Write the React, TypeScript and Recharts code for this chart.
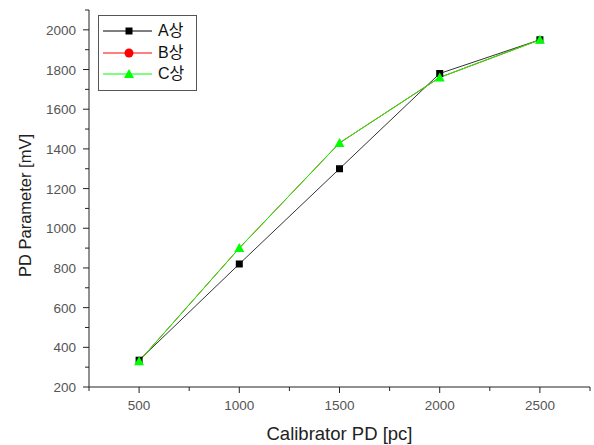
import React from "react";
import { LineChart, Line, XAxis, YAxis } from "recharts";

const categories = [500, 1000, 1500, 2000, 2500];
const seriesA = [335, 820, 1300, 1780, 1950];
const seriesB = [330, 900, 1430, 1760, 1950];
const seriesC = [330, 900, 1430, 1760, 1950];
const xTicks = [250, 500, 750, 1000, 1250, 1500, 1750, 2000, 2250, 2500, 2750];
const xLabels = [500, 1000, 1500, 2000, 2500];
const yTicks = [200, 300, 400, 500, 600, 700, 800, 900, 1000, 1100, 1200, 1300, 1400, 1500, 1600, 1700, 1800, 1900, 2000, 2100];
const yLabels = [200, 400, 600, 800, 1000, 1200, 1400, 1600, 1800, 2000];
const xTitle = "Calibrator PD [pc]";
const yTitle = "PD Parameter [mV]";

const data = categories.map((x, i) => ({ x, a: seriesA[i], b: seriesB[i], c: seriesC[i] }));

const FONT = "Arial, 'Liberation Sans', 'Noto Sans CJK KR', sans-serif";

const XTick = (props: any) => {
  const { x, y, payload } = props;
  const major = xLabels.includes(payload.value);
  return (
    <g>
      <line x1={x} y1={y} x2={x} y2={y + (major ? 6 : 4)} stroke="#222" strokeWidth={1} />
      {major && (
        <text x={x} y={y + 23} textAnchor="middle" fontSize={13.5} fill="#555" fontFamily={FONT}>
          {payload.value}
        </text>
      )}
    </g>
  );
};

const YTick = (props: any) => {
  const { x, y, payload } = props;
  const major = yLabels.includes(payload.value);
  return (
    <g>
      <line x1={x} y1={y} x2={x - (major ? 6 : 4)} y2={y} stroke="#222" strokeWidth={1} />
      {major && (
        <text x={x - 13} y={y + 5} textAnchor="end" fontSize={13.5} fill="#555" fontFamily={FONT}>
          {payload.value}
        </text>
      )}
    </g>
  );
};

const XTitle = (props: any) => {
  const vb = props.viewBox || {};
  const cx = vb.x + vb.width / 2;
  return (
    <text x={cx} y={440} textAnchor="middle" fontSize={18.5} fill="#222" fontFamily={FONT}>
      {xTitle}
    </text>
  );
};

const YTitle = (props: any) => {
  const vb = props.viewBox || {};
  const cx = 31;
  const cy = vb.y + vb.height / 2 + 7;
  return (
    <text x={cx} y={cy} transform={`rotate(-90, ${cx}, ${cy})`} textAnchor="middle" fontSize={16.5} fill="#222" fontFamily={FONT}>
      {yTitle}
    </text>
  );
};

const SquareDot = (props: any) => {
  const { cx, cy, index } = props;
  return <rect key={`a${index}`} x={cx - 3.5} y={cy - 3.5} width={7} height={7} fill="#000" />;
};
const CircleDot = (props: any) => {
  const { cx, cy, index } = props;
  return <circle key={`b${index}`} cx={cx} cy={cy + 1} r={2} fill="#ff0000" />;
};
const TriDot = (props: any) => {
  const { cx, cy, index } = props;
  return <path key={`c${index}`} d={`M${cx},${cy - 5} L${cx + 5},${cy + 4} L${cx - 5},${cy + 4} Z`} fill="#00ff00" />;
};

const legendItems = [
  { name: "A상", color: "#000", marker: "square" },
  { name: "B상", color: "#ff0000", marker: "circle" },
  { name: "C상", color: "#00ff00", marker: "triangle" },
];

const LegendBox = () => (
  <div
    style={{
      position: "absolute",
      left: 98,
      top: 15,
      width: 99,
      height: 76,
      border: "1px solid #555",
      boxSizing: "border-box",
      background: "#fff",
      fontFamily: FONT,
    }}
  >
    {legendItems.map((it, i) => (
      <div key={it.name} style={{ position: "absolute", left: 0, top: 5 + i * 21.5, height: 20, width: 98 }}>
        <svg width={60} height={20} style={{ position: "absolute", left: 0, top: 0 }}>
          <line x1={4} y1={10} x2={53} y2={10} stroke={it.color} strokeWidth={1} />
          {it.marker === "square" && <rect x={26.5} y={6.5} width={7} height={7} fill="#000" />}
          {it.marker === "circle" && <circle cx={30} cy={10} r={4.5} fill="#ff0000" />}
          {it.marker === "triangle" && <path d="M30,5 L35,14 L25,14 Z" fill="#00ff00" />}
        </svg>
        <span style={{ position: "absolute", left: 59, top: 0, fontSize: 16, lineHeight: "20px", color: "#111" }}>
          {it.name}
        </span>
      </div>
    ))}
  </div>
);

export default function App() {
  return (
    <div style={{ position: "absolute", left: 0, top: 0, width: 594, height: 445, background: "#fff" }}>
      <LineChart width={594} height={445} data={data} margin={{ top: 10, right: 4, bottom: 0, left: 0 }}>
        <XAxis
          dataKey="x"
          type="number"
          domain={[250, 2750]}
          ticks={xTicks}
          tick={<XTick />}
          tickLine={false}
          tickSize={0}
          tickMargin={0}
          height={58}
          stroke="#222"
          interval={0}
          label={<XTitle />}
        />
        <YAxis
          type="number"
          domain={[200, 2100]}
          ticks={yTicks}
          tick={<YTick />}
          tickLine={false}
          tickSize={0}
          tickMargin={0}
          width={89}
          stroke="#222"
          interval={0}
          label={<YTitle />}
        />
        <Line dataKey="a" stroke="#333" strokeWidth={1} dot={<SquareDot />} isAnimationActive={false} />
        <Line dataKey="b" stroke="#ff0000" strokeWidth={1} dot={<CircleDot />} isAnimationActive={false} />
        <Line dataKey="c" stroke="#00ff00" strokeWidth={1} dot={<TriDot />} isAnimationActive={false} />
      </LineChart>
      <LegendBox />
    </div>
  );
}
